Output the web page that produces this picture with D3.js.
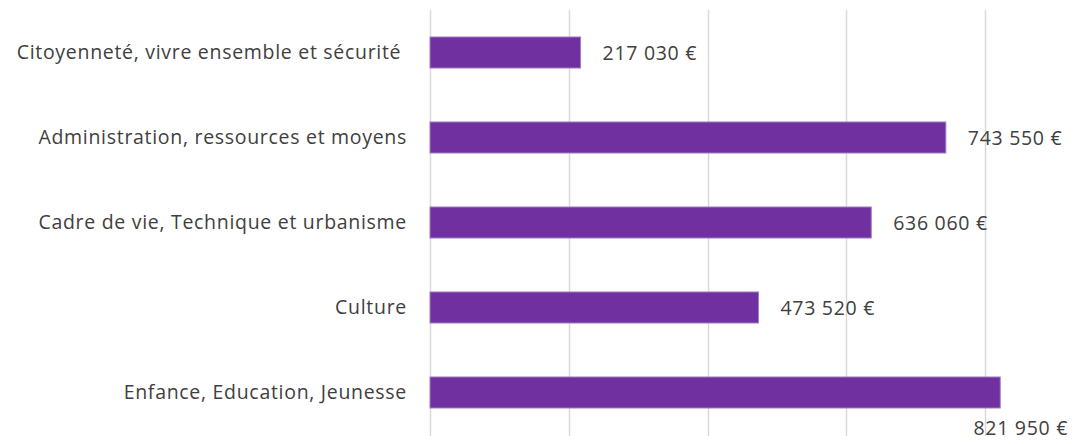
<!DOCTYPE html>
<html>
<head>
<meta charset="utf-8">
<script src="https://cdn.jsdelivr.net/npm/d3@7"></script>
<style>
  body { margin: 0; background: #fff; }
  svg { display: block; font-family: "Open Sans", "Noto Sans", sans-serif; }
</style>
</head>
<body>
<div id="container"></div>
<script>
const categories = [
  "Citoyenneté, vivre ensemble et sécurité ",
  "Administration, ressources et moyens",
  "Cadre de vie, Technique et urbanisme",
  "Culture",
  "Enfance, Education, Jeunesse"
];
const values = [217030, 743550, 636060, 473520, 821950];
const gridTicks = [0, 200000, 400000, 600000, 800000];

const width = 1075;
const height = 444;
const barColor = "#7030a0";
const textColor = "#404040";

const svg = d3.select("#container")
  .append("svg")
  .attr("width", width)
  .attr("height", height);

const x = d3.scaleLinear().domain([0, 800000]).range([430, 985]);
const y = d3.scaleBand().domain(categories).range([10, 435]).paddingInner(0.635).paddingOuter(0.3175);

const fmt = d3.formatLocale({ decimal: ",", thousands: " ", grouping: [3], currency: ["", " €"] }).format("$,.0f");

// gridlines
svg.append("g")
  .selectAll("line")
  .data(gridTicks)
  .enter()
  .append("line")
  .attr("x1", (d) => Math.round(x(d)) + 0.5)
  .attr("x2", (d) => Math.round(x(d)) + 0.5)
  .attr("y1", 10)
  .attr("y2", 436)
  .attr("stroke", "#d9d9d9")
  .attr("stroke-width", 1.5);

// bars
svg.append("g")
  .selectAll("rect")
  .data(values)
  .enter()
  .append("rect")
  .attr("x", x(0))
  .attr("y", (d, i) => y(categories[i]))
  .attr("width", (d) => x(d) - x(0))
  .attr("height", y.bandwidth())
  .attr("fill", barColor)
  .attr("stroke", "#a27fc4")
  .attr("stroke-width", 1);

// category labels
svg.append("g")
  .selectAll("text")
  .data(categories)
  .enter()
  .append("text")
  .text((d) => d)
  .attr("x", 407)
  .attr("y", (d) => y(d) + y.bandwidth() / 2)
  .attr("dy", "0.35em")
  .attr("text-anchor", "end")
  .attr("font-size", "19.5px")
  .attr("letter-spacing", "0.7px")
  .style("white-space", "pre")
  .attr("fill", textColor);

// value labels (last one doesn't fit, so it sits below the bar)
svg.append("g")
  .selectAll("text")
  .data(values)
  .enter()
  .append("text")
  .text((d) => fmt(d))
  .attr("x", (d, i) => i === values.length - 1 ? 1068 : x(d) + 22)
  .attr("y", (d, i) => i === values.length - 1 ? 428 : y(categories[i]) + y.bandwidth() / 2 + 1)
  .attr("dy", "0.35em")
  .attr("text-anchor", (d, i) => i === values.length - 1 ? "end" : "start")
  .attr("font-size", "19.5px")
  .attr("letter-spacing", "0.7px")
  .attr("fill", textColor);
</script>
</body>
</html>
